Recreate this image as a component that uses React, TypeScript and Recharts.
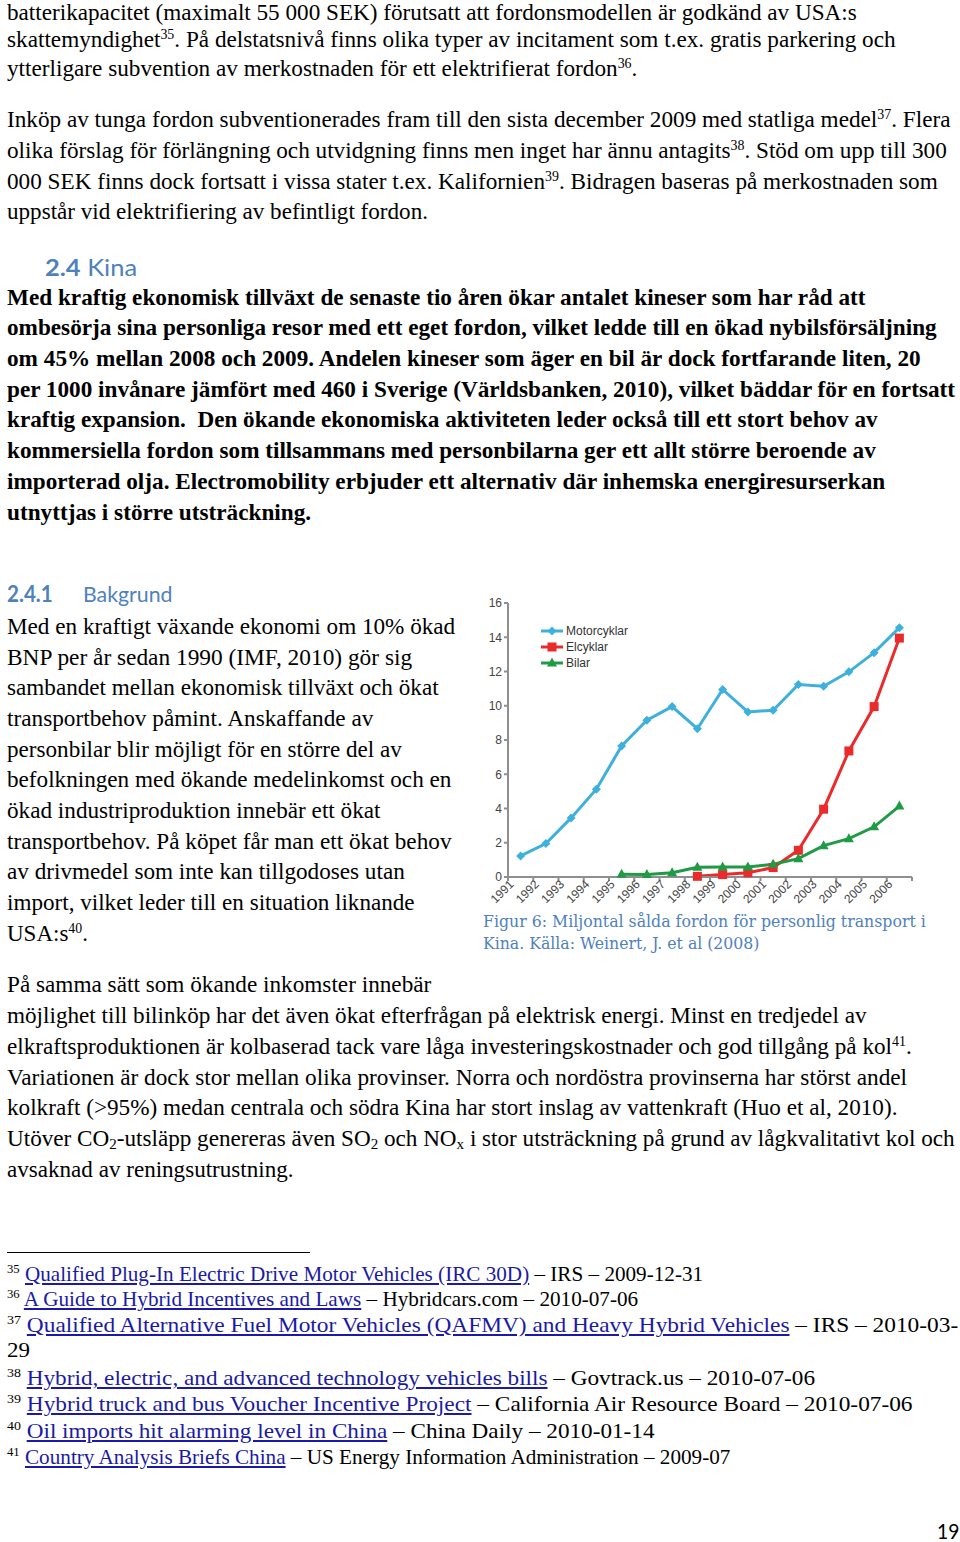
import React, { useLayoutEffect, useRef, useState } from 'react';
import { LineChart, Line, XAxis, YAxis } from 'recharts';

// chart data (miljontal sålda fordon, Kina)
const years = ['1991', '1992', '1993', '1994', '1995', '1996', '1997', '1998', '1999', '2000', '2001', '2002', '2003', '2004', '2005', '2006'];
const motorcyklar = [1.23, 1.95, 3.45, 5.13, 7.65, 9.15, 9.95, 8.66, 10.95, 9.64, 9.74, 11.24, 11.14, 11.98, 13.1, 14.56];
const elcyklar = [null, null, null, null, null, null, null, 0.04, 0.14, 0.25, 0.55, 1.56, 3.96, 7.36, 9.95, 13.95];
const bilar = [null, null, null, null, 0.16, 0.14, 0.25, 0.57, 0.59, 0.59, 0.74, 1.07, 1.83, 2.24, 2.93, 4.14];
const yTicks = [0, 2, 4, 6, 8, 10, 12, 14, 16];

const BLUE = '#3eb0dc';
const RED = '#ea2b2b';
const GREEN = '#1f9a45';

const chartData = years.map((y, i) => ({
  pos: i + 0.5,
  year: y,
  Motorcyklar: motorcyklar[i],
  Elcyklar: elcyklar[i],
  Bilar: bilar[i],
}));

const SERIF = '"Liberation Serif", "Times New Roman", serif';
const SANS = '"Liberation Sans", Arial, sans-serif';
const HEAD = 'Lato, "Open Sans", sans-serif';
const CAPTION = '"DejaVu Serif", serif';
const HEAD_BLUE = '#4f81bd';
const LINK = '#1a1aa6';

// one line of page text, stretched so it ends at `right`
function Row({ x, y, right, size = 23, bold = false, family = SERIF, color = '#000', children }: any) {
  const ref = useRef<HTMLSpanElement>(null);
  const [sx, setSx] = useState(1);
  useLayoutEffect(() => {
    if (ref.current && right) {
      const w = ref.current.offsetWidth;
      if (w > 0) setSx((right - x) / w);
    }
  }, []);
  return (
    <div
      style={{
        position: 'absolute',
        left: x,
        top: y - size * 0.62,
        whiteSpace: 'nowrap',
        fontSize: size,
        lineHeight: `${size}px`,
        fontFamily: family,
        fontWeight: bold ? 700 : 400,
        color,
        transform: `scaleX(${sx})`,
        transformOrigin: '0 0',
      }}
    >
      <span ref={ref} style={{ display: 'inline-block' }}>{children}</span>
    </div>
  );
}

const Sup = ({ children }: any) => (
  <sup style={{ fontSize: '0.6em', lineHeight: 0, verticalAlign: '0.6em' }}>{children}</sup>
);
const Sub = ({ children }: any) => (
  <sub style={{ fontSize: '0.65em', lineHeight: 0, verticalAlign: '-0.2em' }}>{children}</sub>
);
const A = ({ children }: any) => <span style={{ color: LINK, textDecoration: 'underline' }}>{children}</span>;

const Diamond = ({ cx, cy, fill }: any) => {
  if (cx == null || cy == null) return <g />;
  const r = 4.5;
  return <path d={`M${cx},${cy - r}L${cx + r},${cy}L${cx},${cy + r}L${cx - r},${cy}Z`} fill={fill} />;
};
const Square = ({ cx, cy, fill }: any) => {
  if (cx == null || cy == null) return <g />;
  return <rect x={cx - 4.5} y={cy - 4.5} width={9} height={9} fill={fill} />;
};
const Triangle = ({ cx, cy, fill }: any) => {
  if (cx == null || cy == null) return <g />;
  return <path d={`M${cx},${cy - 5.5}L${cx + 5},${cy + 3.5}L${cx - 5},${cy + 3.5}Z`} fill={fill} />;
};

const series = [
  { key: 'Motorcyklar', color: BLUE, Mark: Diamond },
  { key: 'Elcyklar', color: RED, Mark: Square },
  { key: 'Bilar', color: GREEN, Mark: Triangle },
];

const LegendBox = () => (
  <div style={{ position: 'absolute', left: 70, top: 33 }}>
    {series.map(({ key, color, Mark }) => (
      <div key={key} style={{ display: 'flex', alignItems: 'center', height: 16 }}>
        <svg width={24} height={14}>
          <line x1={1} y1={7} x2={23} y2={7} stroke={color} strokeWidth={3} />
          <Mark cx={12} cy={7} fill={color} />
        </svg>
        <span style={{ fontFamily: SANS, fontSize: 12, color: '#333', marginLeft: 2 }}>{key}</span>
      </div>
    ))}
  </div>
);

const YearTick = ({ x, y, payload }: any) => {
  const label = years[payload.value] ?? '';
  return (
    <g transform={`translate(${x},${y})`}>
      <text x={0} y={0} dy={6} dx={3} textAnchor="end" transform="rotate(-45)" fontSize={12} fontFamily={SANS} fill="#444">
        {label}
      </text>
    </g>
  );
};

function Chart() {
  return (
    <div style={{ position: 'relative', width: 450, height: 330 }}>
      <LineChart width={450} height={330} data={chartData} margin={{ top: 13, right: 8, left: 0, bottom: 5 }}>
        <XAxis
          dataKey="pos"
          type="number"
          domain={[0, 16]}
          ticks={[0, 1, 2, 3, 4, 5, 6, 7, 8, 9, 10, 11, 12, 13, 14, 15, 16]}
          interval={0}
          tick={<YearTick />}
          tickSize={4}
          stroke="#8f8f8f"
          strokeWidth={2}
          height={38}
        />
        <YAxis
          domain={[0, 16]}
          ticks={yTicks}
          width={38}
          tickSize={4}
          tick={{ fontSize: 12, fontFamily: SANS, fill: '#444' }}
          stroke="#8f8f8f"
          strokeWidth={2}
        />
        {series.map(({ key, color, Mark }) => (
          <Line
            key={key}
            dataKey={key}
            stroke={color}
            strokeWidth={3}
            isAnimationActive={false}
            connectNulls={false}
            dot={(p: any) => <Mark key={`${key}-${p.index}`} cx={p.cx} cy={p.cy} fill={color} />}
            activeDot={false}
          />
        ))}
      </LineChart>
      <LegendBox />
    </div>
  );
}

export default function App() {
  return (
    <div style={{ position: 'absolute', left: 0, top: 0, width: 960, height: 1542, background: '#fff', overflow: 'hidden' }}>
      <Row x={7} y={15} right={857}>batterikapacitet (maximalt 55 000 SEK) förutsatt att fordonsmodellen är godkänd av USA:s</Row>
      <Row x={7} y={42} right={896}>skattemyndighet<Sup>35</Sup>. På delstatsnivå finns olika typer av incitament som t.ex. gratis parkering och</Row>
      <Row x={7} y={71} right={637}>ytterligare subvention av merkostnaden för ett elektrifierat fordon<Sup>36</Sup>.</Row>

      <Row x={7} y={122} right={950}>Inköp av tunga fordon subventionerades fram till den sista december 2009 med statliga medel<Sup>37</Sup>. Flera</Row>
      <Row x={7} y={153} right={947}>olika förslag för förlängning och utvidgning finns men inget har ännu antagits<Sup>38</Sup>. Stöd om upp till 300</Row>
      <Row x={7} y={184} right={938}>000 SEK finns dock fortsatt i vissa stater t.ex. Kalifornien<Sup>39</Sup>. Bidragen baseras på merkostnaden som</Row>
      <Row x={7} y={214} right={428}>uppstår vid elektrifiering av befintligt fordon.</Row>

      <Row x={45} y={270} right={137} size={23} family={HEAD} color={HEAD_BLUE}><b>2.4</b> Kina</Row>

      <Row x={7} y={300} right={866} bold>Med kraftig ekonomisk tillväxt de senaste tio åren ökar antalet kineser som har råd att</Row>
      <Row x={7} y={330} right={937} bold>ombesörja sina personliga resor med ett eget fordon, vilket ledde till en ökad nybilsförsäljning</Row>
      <Row x={7} y={361} right={921} bold>om 45% mellan 2008 och 2009. Andelen kineser som äger en bil är dock fortfarande liten, 20</Row>
      <Row x={7} y={392} right={955} bold>per 1000 invånare jämfört med 460 i Sverige (Världsbanken, 2010), vilket bäddar för en fortsatt</Row>
      <Row x={7} y={422} right={878} bold>kraftig expansion.&nbsp; Den ökande ekonomiska aktiviteten leder också till ett stort behov av</Row>
      <Row x={7} y={453} right={876} bold>kommersiella fordon som tillsammans med personbilarna ger ett allt större beroende av</Row>
      <Row x={7} y={484} right={885} bold>importerad olja. Electromobility erbjuder ett alternativ där inhemska energiresurserkan</Row>
      <Row x={7} y={515} right={311} bold>utnyttjas i större utsträckning.</Row>

      <Row x={7} y={597} right={53} size={22} family={HEAD} color={HEAD_BLUE} bold>2.4.1</Row>
      <Row x={83} y={597} right={172} size={22} family={HEAD} color={HEAD_BLUE}>Bakgrund</Row>

      <Row x={7} y={629} right={455}>Med en kraftigt växande ekonomi om 10% ökad</Row>
      <Row x={7} y={660} right={412}>BNP per år sedan 1990 (IMF, 2010) gör sig</Row>
      <Row x={7} y={690} right={439}>sambandet mellan ekonomisk tillväxt och ökat</Row>
      <Row x={7} y={721} right={373}>transportbehov påmint. Anskaffande av</Row>
      <Row x={7} y={752} right={402}>personbilar blir möjligt för en större del av</Row>
      <Row x={7} y={782} right={451}>befolkningen med ökande medelinkomst och en</Row>
      <Row x={7} y={813} right={380}>ökad industriproduktion innebär ett ökat</Row>
      <Row x={7} y={844} right={452}>transportbehov. På köpet får man ett ökat behov</Row>
      <Row x={7} y={874} right={405}>av drivmedel som inte kan tillgodoses utan</Row>
      <Row x={7} y={905} right={415}>import, vilket leder till en situation liknande</Row>
      <Row x={7} y={936} right={88}>USA:s<Sup>40</Sup>.</Row>

      <div style={{ position: 'absolute', left: 470, top: 590 }}>
        <Chart />
      </div>

      <Row x={483} y={924} right={926} size={17} family={CAPTION} color={HEAD_BLUE}>Figur 6: Miljontal sålda fordon för personlig transport i</Row>
      <Row x={483} y={946} right={759} size={17} family={CAPTION} color={HEAD_BLUE}>Kina. Källa: Weinert, J. et al (2008)</Row>

      <Row x={7} y={987} right={431}>På samma sätt som ökande inkomster innebär</Row>
      <Row x={7} y={1018} right={867}>möjlighet till bilinköp har det även ökat efterfrågan på elektrisk energi. Minst en tredjedel av</Row>
      <Row x={7} y={1049} right={912}>elkraftsproduktionen är kolbaserad tack vare låga investeringskostnader och god tillgång på kol<Sup>41</Sup>.</Row>
      <Row x={7} y={1080} right={907}>Variationen är dock stor mellan olika provinser. Norra och nordöstra provinserna har störst andel</Row>
      <Row x={7} y={1110} right={897}>kolkraft (&gt;95%) medan centrala och södra Kina har stort inslag av vattenkraft (Huo et al, 2010).</Row>
      <Row x={7} y={1141} right={955}>Utöver CO<Sub>2</Sub>-utsläpp genereras även SO<Sub>2</Sub> och NO<Sub>x</Sub> i stor utsträckning på grund av lågkvalitativt kol och</Row>
      <Row x={7} y={1172} right={294}>avsaknad av reningsutrustning.</Row>

      <div style={{ position: 'absolute', left: 7, top: 1252, width: 303, height: 1, background: '#000' }} />

      <Row x={7} y={1277} right={703} size={21}><Sup>35</Sup> <A>Qualified Plug-In Electric Drive Motor Vehicles (IRC 30D)</A> – IRS – 2009-12-31</Row>
      <Row x={7} y={1302} right={638} size={21}><Sup>36</Sup> <A>A Guide to Hybrid Incentives and Laws</A> – Hybridcars.com – 2010-07-06</Row>
      <Row x={7} y={1328} right={958} size={21}><Sup>37</Sup> <A>Qualified Alternative Fuel Motor Vehicles (QAFMV) and Heavy Hybrid Vehicles</A> – IRS – 2010-03-</Row>
      <Row x={7} y={1353} right={30} size={21}>29</Row>
      <Row x={7} y={1381} right={815} size={21}><Sup>38</Sup> <A>Hybrid, electric, and advanced technology vehicles bills</A> – Govtrack.us – 2010-07-06</Row>
      <Row x={7} y={1407} right={912} size={21}><Sup>39</Sup> <A>Hybrid truck and bus Voucher Incentive Project</A> – California Air Resource Board – 2010-07-06</Row>
      <Row x={7} y={1434} right={655} size={21}><Sup>40</Sup> <A>Oil imports hit alarming level in China</A> – China Daily – 2010-01-14</Row>
      <Row x={7} y={1460} right={730} size={21}><Sup>41</Sup> <A>Country Analysis Briefs China</A> – US Energy Information Administration – 2009-07</Row>

      <Row x={937} y={1533} right={959} size={21} family={HEAD}>19</Row>
    </div>
  );
}
